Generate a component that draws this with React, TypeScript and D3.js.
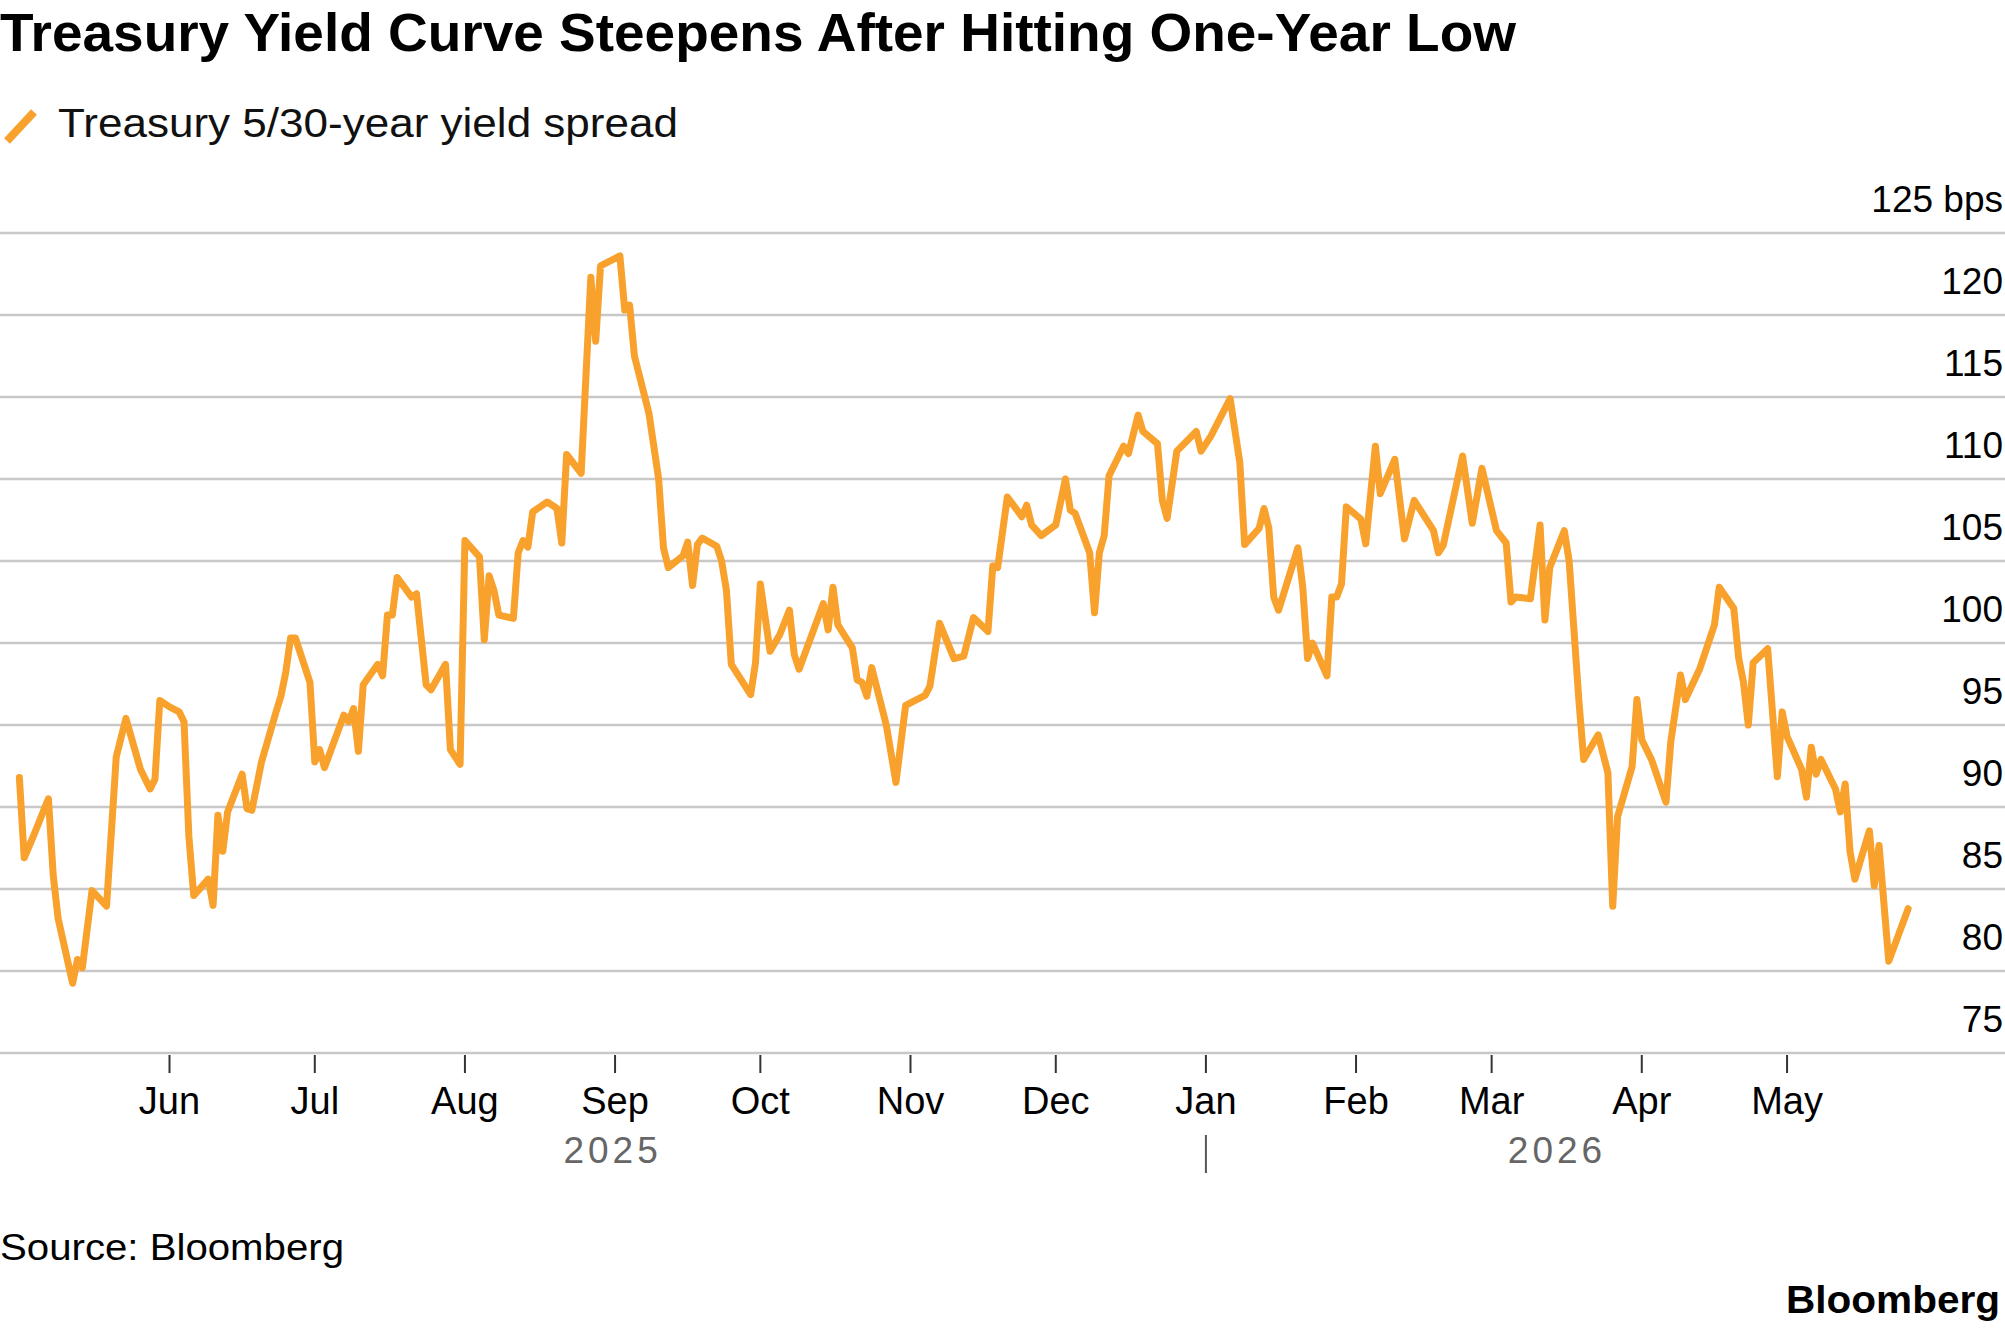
import React, { useEffect, useRef } from 'react';
import * as d3 from 'd3';

// Treasury 5/30-year yield spread, bps
const dates = [
  '2025-05-01', '2025-05-02', '2025-05-04', '2025-05-07', '2025-05-08', '2025-05-09',
  '2025-05-12', '2025-05-13', '2025-05-14', '2025-05-16', '2025-05-19', '2025-05-21',
  '2025-05-23', '2025-05-26', '2025-05-28', '2025-05-29', '2025-05-30', '2025-06-01',
  '2025-06-03', '2025-06-04', '2025-06-05', '2025-06-06', '2025-06-09', '2025-06-10',
  '2025-06-11', '2025-06-12', '2025-06-13', '2025-06-16', '2025-06-17', '2025-06-18',
  '2025-06-20', '2025-06-23', '2025-06-24', '2025-06-25', '2025-06-26', '2025-06-27',
  '2025-06-30', '2025-07-01', '2025-07-02', '2025-07-03', '2025-07-07', '2025-07-08',
  '2025-07-09', '2025-07-10', '2025-07-11', '2025-07-14', '2025-07-15', '2025-07-16',
  '2025-07-17', '2025-07-18', '2025-07-21', '2025-07-22', '2025-07-24', '2025-07-25',
  '2025-07-28', '2025-07-29', '2025-07-31', '2025-08-01', '2025-08-04', '2025-08-05',
  '2025-08-06', '2025-08-07', '2025-08-08', '2025-08-11', '2025-08-12', '2025-08-13',
  '2025-08-14', '2025-08-15', '2025-08-18', '2025-08-20', '2025-08-21', '2025-08-22',
  '2025-08-25', '2025-08-27', '2025-08-28', '2025-08-29', '2025-09-02', '2025-09-03',
  '2025-09-04', '2025-09-05', '2025-09-08', '2025-09-10', '2025-09-11', '2025-09-12',
  '2025-09-15', '2025-09-16', '2025-09-17', '2025-09-18', '2025-09-19', '2025-09-22',
  '2025-09-23', '2025-09-24', '2025-09-25', '2025-09-29', '2025-09-30', '2025-10-01',
  '2025-10-03', '2025-10-05', '2025-10-07', '2025-10-08', '2025-10-09', '2025-10-14',
  '2025-10-15', '2025-10-16', '2025-10-17', '2025-10-20', '2025-10-21', '2025-10-22',
  '2025-10-23', '2025-10-24', '2025-10-27', '2025-10-29', '2025-10-31', '2025-11-04',
  '2025-11-05', '2025-11-07', '2025-11-10', '2025-11-12', '2025-11-14', '2025-11-17',
  '2025-11-18', '2025-11-19', '2025-11-21', '2025-11-24', '2025-11-25', '2025-11-26',
  '2025-11-28', '2025-12-01', '2025-12-03', '2025-12-04', '2025-12-05', '2025-12-08',
  '2025-12-09', '2025-12-10', '2025-12-11', '2025-12-12', '2025-12-15', '2025-12-16',
  '2025-12-18', '2025-12-19', '2025-12-22', '2025-12-23', '2025-12-24', '2025-12-26',
  '2025-12-30', '2025-12-31', '2026-01-02', '2026-01-06', '2026-01-08', '2026-01-09',
  '2026-01-12', '2026-01-13', '2026-01-14', '2026-01-15', '2026-01-16', '2026-01-20',
  '2026-01-21', '2026-01-22', '2026-01-23', '2026-01-26', '2026-01-27', '2026-01-28',
  '2026-01-29', '2026-01-30', '2026-02-02', '2026-02-03', '2026-02-05', '2026-02-06',
  '2026-02-09', '2026-02-11', '2026-02-13', '2026-02-17', '2026-02-18', '2026-02-19',
  '2026-02-23', '2026-02-25', '2026-02-27', '2026-03-02', '2026-03-04', '2026-03-05',
  '2026-03-06', '2026-03-09', '2026-03-11', '2026-03-12', '2026-03-13', '2026-03-16',
  '2026-03-17', '2026-03-19', '2026-03-20', '2026-03-23', '2026-03-25', '2026-03-26',
  '2026-03-27', '2026-03-30', '2026-03-31', '2026-04-01', '2026-04-03', '2026-04-06',
  '2026-04-07', '2026-04-09', '2026-04-10', '2026-04-13', '2026-04-16', '2026-04-17',
  '2026-04-20', '2026-04-21', '2026-04-22', '2026-04-23', '2026-04-24', '2026-04-27',
  '2026-04-29', '2026-04-30', '2026-05-01', '2026-05-04', '2026-05-05', '2026-05-06',
  '2026-05-07', '2026-05-08', '2026-05-11', '2026-05-12', '2026-05-13', '2026-05-14',
  '2026-05-15', '2026-05-18', '2026-05-19', '2026-05-20', '2026-05-22', '2026-05-26',
];

const spread = [
  91.8, 86.9, 88.3, 90.5, 85.8, 83.2,
  79.25, 80.7, 80.2, 84.9, 83.95, 93.05,
  95.4, 92.3, 91.1, 91.7, 96.5, 96.1,
  95.8, 95.2, 88.2, 84.6, 85.6, 84.0,
  89.5, 87.3, 89.7, 92.0, 89.9, 89.8,
  92.75, 95.8, 96.75, 98.2, 100.3, 100.3,
  97.6, 92.75, 93.5, 92.4, 95.6, 95.2,
  96.0, 93.4, 97.45, 98.7, 98.0, 101.7,
  101.7, 104.0, 102.8, 103.0, 97.45, 97.15,
  98.7, 93.5, 92.6, 106.25, 105.25, 100.2,
  104.1, 103.2, 101.7, 101.5, 105.5, 106.25,
  105.85, 108.0, 108.6, 108.2, 106.1, 111.5,
  110.35, 122.3, 118.4, 123.0, 123.6, 120.3,
  120.6, 117.5, 114.0, 110.0, 105.8, 104.6,
  105.3, 106.15, 103.5, 106.0, 106.4, 105.9,
  105.0, 103.2, 98.7, 96.85, 98.8, 103.6,
  99.5, 100.5, 102.0, 99.3, 98.4, 102.4,
  100.8, 103.4, 101.1, 99.7, 97.75, 97.6,
  96.75, 98.5, 95.0, 91.5, 96.2, 96.8,
  97.35, 101.2, 99.05, 99.2, 101.55, 100.7,
  104.7, 104.6, 108.9, 107.7, 108.4, 107.2,
  106.55, 107.2, 110.0, 108.1, 107.9, 105.5,
  101.85, 105.5, 106.55, 110.2, 112.0, 111.55,
  113.9, 112.9, 112.15, 108.7, 107.6, 111.7,
  112.9, 111.7, 112.6, 114.9, 111.0, 106.0,
  107.0, 108.2, 107.0, 102.8, 102.0, 105.8,
  103.4, 99.05, 100.0, 98.0, 102.8, 102.8,
  103.6, 108.3, 107.55, 106.05, 112.0, 109.1,
  111.2, 106.35, 108.7, 106.85, 105.5, 105.95,
  111.4, 107.3, 110.65, 106.85, 106.1, 102.5,
  102.8, 102.7, 107.2, 101.4, 104.6, 106.85,
  105.0, 96.55, 92.9, 94.4, 92.1, 83.95,
  89.4, 92.45, 96.55, 94.1, 92.9, 90.3,
  94.0, 98.05, 96.55, 98.45, 101.1, 103.4,
  102.1, 99.1, 97.6, 95.0, 98.8, 99.65,
  91.85, 95.8, 94.3, 92.3, 90.6, 93.65,
  92.0, 92.9, 91.1, 89.7, 91.4, 87.3,
  85.6, 88.55, 85.2, 87.65, 80.6, 83.8,
];

const yTicks = [75, 80, 85, 90, 95, 100, 105, 110, 115, 120, 125];
const yearBreak = '2026-01-01';
const titleText = 'Treasury Yield Curve Steepens After Hitting One-Year Low';
const legendText = 'Treasury 5/30-year yield spread';
const sourceText = 'Source: Bloomberg';

const App = () => {
  const svgRef = useRef(null);

  useEffect(() => {
    const width = 2005;
    const height = 1329;
    const orange = '#f8a12d';
    const font = '"Liberation Sans", Arial, sans-serif';

    const svg = d3.select(svgRef.current);
    svg.selectAll('*').remove();
    svg.attr('width', width).attr('height', height);

    const parse = d3.utcParse('%Y-%m-%d');
    const data = dates.map((d, i) => ({ date: parse(d), value: spread[i] }));

    // scales
    const x = d3
      .scaleUtc()
      .domain([parse('2025-04-27'), parse('2026-06-15')])
      .range([0, width]);
    const y = d3.scaleLinear().domain([75, 125]).range([1053, 233]);

    // title + legend
    svg
      .append('text')
      .attr('x', 0)
      .attr('y', 51)
      .attr('font-family', font)
      .attr('font-weight', 700)
      .attr('font-size', 54)
      .attr('textLength', 1516)
      .attr('lengthAdjust', 'spacingAndGlyphs')
      .attr('fill', '#000')
      .text(titleText);

    svg
      .append('line')
      .attr('x1', 7)
      .attr('y1', 141)
      .attr('x2', 34)
      .attr('y2', 112)
      .attr('stroke', orange)
      .attr('stroke-width', 8);

    svg
      .append('text')
      .attr('x', 58)
      .attr('y', 137)
      .attr('font-family', font)
      .attr('font-size', 41)
      .attr('textLength', 620)
      .attr('lengthAdjust', 'spacingAndGlyphs')
      .attr('fill', '#111')
      .text(legendText);

    // gridlines
    svg
      .append('g')
      .selectAll('line')
      .data(yTicks)
      .join('line')
      .attr('x1', 0)
      .attr('x2', width)
      .attr('y1', (d) => y(d))
      .attr('y2', (d) => y(d))
      .attr('stroke', '#c8c8c8')
      .attr('stroke-width', 2.5);

    // y labels
    svg
      .append('g')
      .selectAll('text')
      .data(yTicks)
      .join('text')
      .attr('x', width - 2)
      .attr('y', (d) => y(d) - 21)
      .attr('text-anchor', 'end')
      .attr('font-family', font)
      .attr('font-size', 37)
      .attr('fill', '#000')
      .text((d) => (d === 125 ? `${d} bps` : `${d}`));

    // month ticks
    const months = d3.utcMonth.range(parse('2025-06-01'), parse('2026-05-02'));
    const xAxis = svg.append('g');
    xAxis
      .selectAll('line')
      .data(months)
      .join('line')
      .attr('x1', (d) => x(d))
      .attr('x2', (d) => x(d))
      .attr('y1', 1055)
      .attr('y2', 1073)
      .attr('stroke', '#333')
      .attr('stroke-width', 2);
    xAxis
      .selectAll('text')
      .data(months)
      .join('text')
      .attr('x', (d) => x(d))
      .attr('y', 1114)
      .attr('text-anchor', 'middle')
      .attr('font-family', font)
      .attr('font-size', 38)
      .attr('fill', '#000')
      .text((d) => d3.utcFormat('%b')(d));

    // year labels, centred on each year's part of the series
    const first = data[0].date;
    const last = data[data.length - 1].date;
    const brk = parse(yearBreak);
    const years = [
      { label: '2025', x: (x(first) + x(brk)) / 2 },
      { label: '2026', x: (x(brk) + x(last)) / 2 },
    ];
    svg
      .append('g')
      .selectAll('text')
      .data(years)
      .join('text')
      .attr('x', (d) => d.x)
      .attr('y', 1163)
      .attr('text-anchor', 'middle')
      .attr('font-family', font)
      .attr('font-size', 37)
      .attr('letter-spacing', 4)
      .attr('fill', '#666')
      .text((d) => d.label);

    svg
      .append('line')
      .attr('x1', x(brk))
      .attr('x2', x(brk))
      .attr('y1', 1135)
      .attr('y2', 1173)
      .attr('stroke', '#555')
      .attr('stroke-width', 2);

    // the series
    const line = d3
      .line()
      .x((d) => x(d.date))
      .y((d) => y(d.value));

    svg
      .append('path')
      .datum(data)
      .attr('d', line)
      .attr('fill', 'none')
      .attr('stroke', orange)
      .attr('stroke-width', 7)
      .attr('stroke-linejoin', 'round')
      .attr('stroke-linecap', 'round');

    // footer
    svg
      .append('text')
      .attr('x', 0)
      .attr('y', 1260)
      .attr('font-family', font)
      .attr('font-size', 37)
      .attr('textLength', 344)
      .attr('lengthAdjust', 'spacingAndGlyphs')
      .attr('fill', '#000')
      .text(sourceText);

    svg
      .append('text')
      .attr('x', 1786)
      .attr('y', 1313)
      .attr('font-family', font)
      .attr('font-weight', 700)
      .attr('font-size', 39)
      .attr('textLength', 214)
      .attr('lengthAdjust', 'spacingAndGlyphs')
      .attr('fill', '#000')
      .text('Bloomberg');
  }, []);

  return (
    <div style={{ position: 'absolute', left: 0, top: 0 }}>
      <svg ref={svgRef} style={{ display: 'block' }}></svg>
    </div>
  );
};

export default App;
